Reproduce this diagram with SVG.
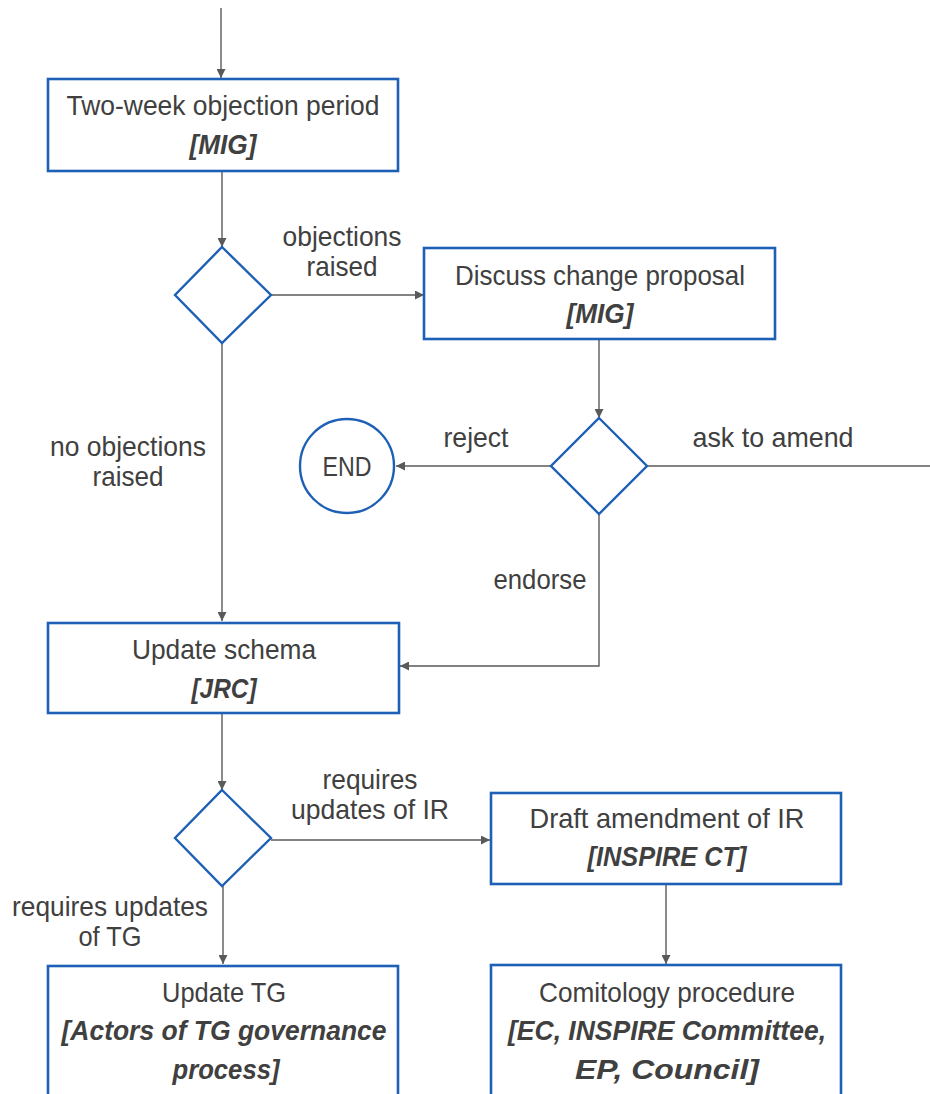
<svg xmlns="http://www.w3.org/2000/svg" width="930" height="1094" viewBox="0 0 930 1094">
<style>
.box{fill:#fff;stroke:#1d60b5;stroke-width:2.6}
.dia{fill:#fff;stroke:#1d60b5;stroke-width:2.4}
.con{fill:none;stroke:#5a5a5a;stroke-width:1.4}
text{font-family:"Liberation Sans",Arial,sans-serif;font-size:28px;fill:#404040;text-anchor:middle}
.b{font-weight:bold;font-style:italic}
</style>
<defs>
<marker id="ah" viewBox="0 0 10 10" refX="10" refY="5" markerWidth="9" markerHeight="9" markerUnits="userSpaceOnUse" orient="auto">
<path d="M0,0 L10,5 L0,10 z" fill="#5a5a5a"/>
</marker>
</defs>
<rect width="930" height="1094" fill="#fff"/>
<g id="connectors">
<path class="con" d="M221,8 V78" marker-end="url(#ah)"/>
<path class="con" d="M222,171 V247" marker-end="url(#ah)"/>
<path class="con" d="M271,295 H424" marker-end="url(#ah)"/>
<path class="con" d="M222,343 V621" marker-end="url(#ah)"/>
<path class="con" d="M599,339 V418" marker-end="url(#ah)"/>
<path class="con" d="M551,466 H396" marker-end="url(#ah)"/>
<path class="con" d="M647,466 H930"/>
<path class="con" d="M599,514 V666 H400" marker-end="url(#ah)"/>
<path class="con" d="M222,713 V790" marker-end="url(#ah)"/>
<path class="con" d="M271,840 H490" marker-end="url(#ah)"/>
<path class="con" d="M223,886 V964" marker-end="url(#ah)"/>
<path class="con" d="M666,884 V964" marker-end="url(#ah)"/>
<text x="342" y="246" textLength="119" lengthAdjust="spacingAndGlyphs">objections</text>
<text x="342" y="276" textLength="71" lengthAdjust="spacingAndGlyphs">raised</text>
<text x="128" y="456" textLength="156" lengthAdjust="spacingAndGlyphs">no objections</text>
<text x="128" y="486" textLength="71" lengthAdjust="spacingAndGlyphs">raised</text>
<text x="476" y="447" textLength="65" lengthAdjust="spacingAndGlyphs">reject</text>
<text x="773" y="447" textLength="161" lengthAdjust="spacingAndGlyphs">ask to amend</text>
<text x="540" y="589" textLength="93" lengthAdjust="spacingAndGlyphs">endorse</text>
<text x="370" y="789" textLength="95" lengthAdjust="spacingAndGlyphs">requires</text>
<text x="370" y="819" textLength="158" lengthAdjust="spacingAndGlyphs">updates of IR</text>
<text x="110" y="916" textLength="196" lengthAdjust="spacingAndGlyphs">requires updates</text>
<text x="110" y="946" textLength="63" lengthAdjust="spacingAndGlyphs">of TG</text>
</g>
<g id="n-objection-period">
<rect class="box" x="48" y="79" width="350" height="92"/>
<text x="223" y="115" textLength="313" lengthAdjust="spacingAndGlyphs">Two-week objection period</text>
<text class="b" x="223" y="154" textLength="67" lengthAdjust="spacingAndGlyphs">[MIG]</text>
</g>
<g id="n-decision1">
<path class="dia" d="M222,247 L271,295 L222,343 L175,295 Z"/>
</g>
<g id="n-discuss">
<rect class="box" x="424" y="248" width="351" height="91"/>
<text x="600" y="285" textLength="290" lengthAdjust="spacingAndGlyphs">Discuss change proposal</text>
<text class="b" x="600" y="323" textLength="67" lengthAdjust="spacingAndGlyphs">[MIG]</text>
</g>
<g id="n-decision2">
<path class="dia" d="M599,418 L647,466 L599,514 L551,466 Z"/>
</g>
<g id="n-end">
<circle class="dia" cx="347" cy="466" r="47"/>
<text x="347" y="476" textLength="49" lengthAdjust="spacingAndGlyphs">END</text>
</g>
<g id="n-update-schema">
<rect class="box" x="48" y="623" width="351" height="90"/>
<text x="224" y="659" textLength="184" lengthAdjust="spacingAndGlyphs">Update schema</text>
<text class="b" x="224" y="698" textLength="65" lengthAdjust="spacingAndGlyphs">[JRC]</text>
</g>
<g id="n-decision3">
<path class="dia" d="M222,790 L271,838 L222,886 L175,838 Z"/>
</g>
<g id="n-draft-amendment">
<rect class="box" x="491" y="793" width="350" height="91"/>
<text x="667" y="828" textLength="275" lengthAdjust="spacingAndGlyphs">Draft amendment of IR</text>
<text class="b" x="667" y="866" textLength="159" lengthAdjust="spacingAndGlyphs">[INSPIRE CT]</text>
</g>
<g id="n-comitology">
<rect class="box" x="491" y="965" width="350" height="140"/>
<text x="667" y="1002" textLength="256" lengthAdjust="spacingAndGlyphs">Comitology procedure</text>
<text class="b" x="667" y="1040" textLength="318" lengthAdjust="spacingAndGlyphs">[EC, INSPIRE Committee,</text>
<text class="b" x="667" y="1079" textLength="184" lengthAdjust="spacingAndGlyphs">EP, Council]</text>
</g>
<g id="n-update-tg">
<rect class="box" x="48" y="966" width="350" height="140"/>
<text x="224" y="1002" textLength="124" lengthAdjust="spacingAndGlyphs">Update TG</text>
<text class="b" x="224" y="1040" textLength="325" lengthAdjust="spacingAndGlyphs">[Actors of TG governance</text>
<text class="b" x="226" y="1079" textLength="107" lengthAdjust="spacingAndGlyphs">process]</text>
</g>
</svg>
